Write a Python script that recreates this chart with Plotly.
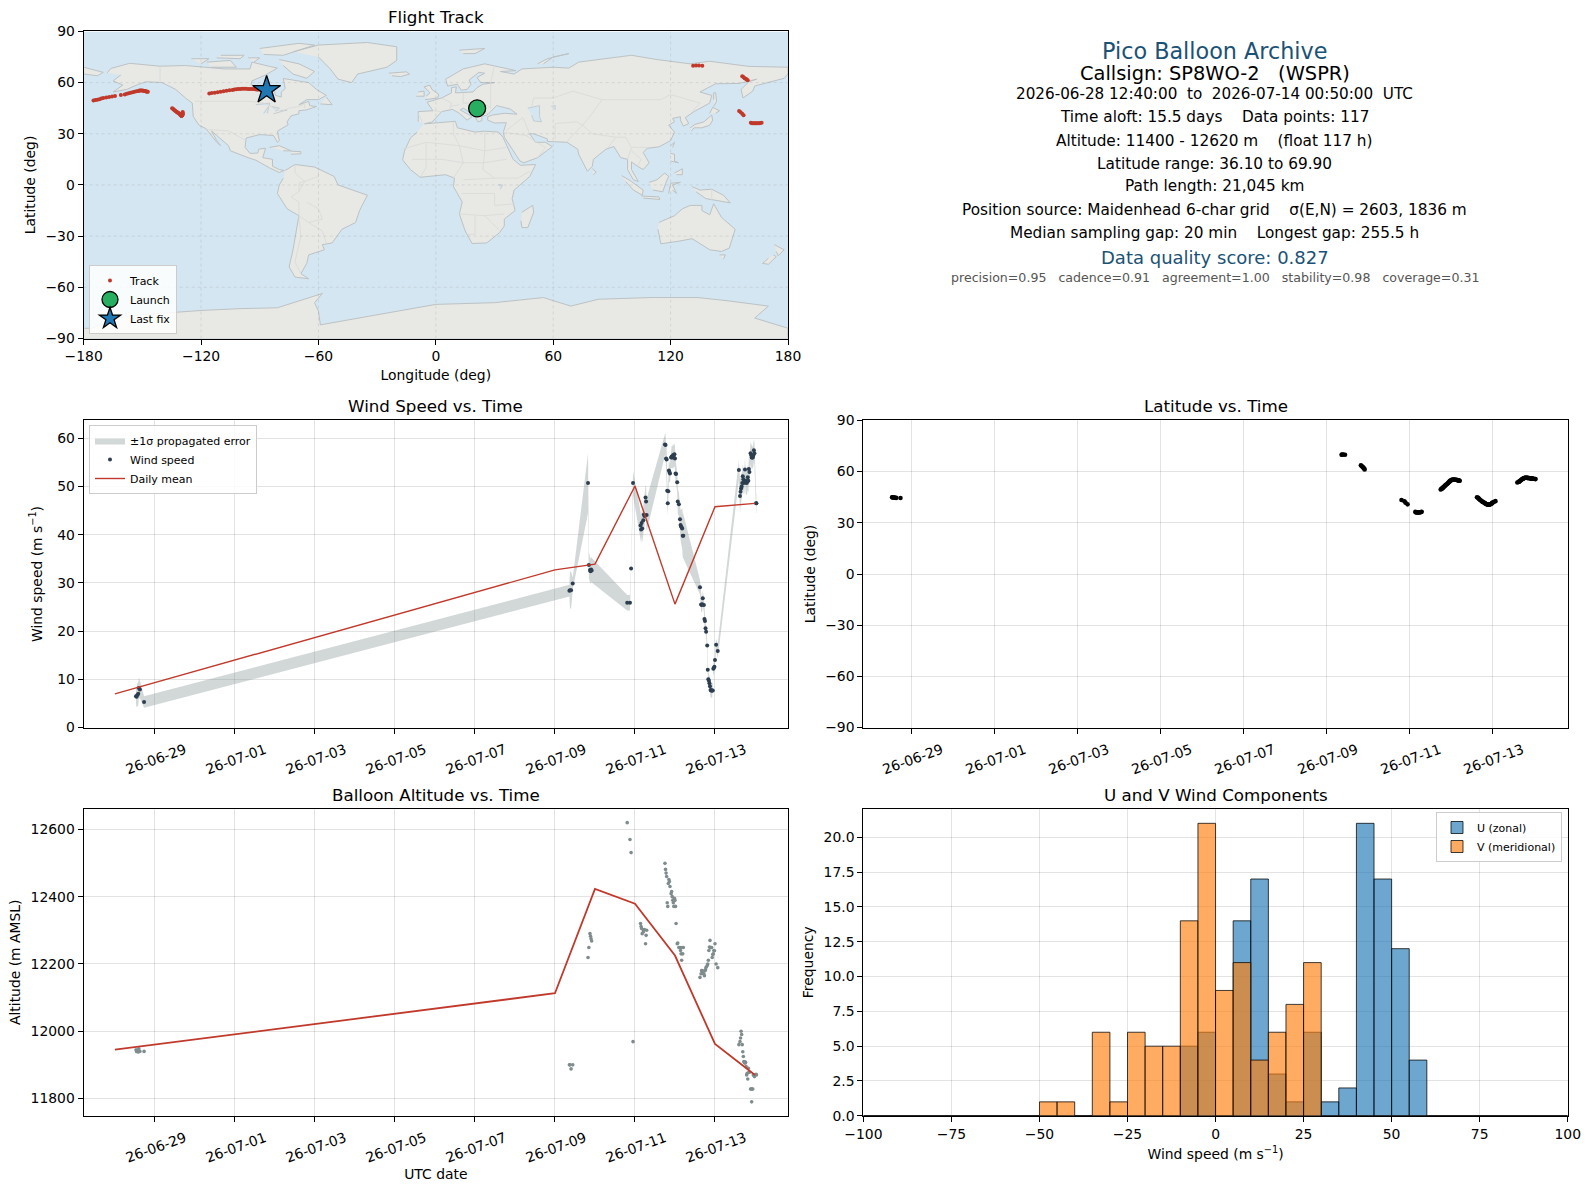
#!/usr/bin/env python3
# Pico balloon flight summary, 5 panels + text block
import plotly.graph_objects as go

W, H = 1589, 1189

# flight samples (one block per contact window)
time_utc = [
    "06-28 12:40", "06-28 13:00", "06-28 13:20", "06-28 14:00", "06-28 14:20", "06-28 15:00", "06-28 17:30",
    "07-09 08:40", "07-09 09:00", "07-09 09:40", "07-09 10:40",
    "07-09 19:50", "07-09 20:20", "07-09 21:00", "07-09 21:20", "07-09 21:40", "07-09 22:00",
    "07-10 19:20", "07-10 21:00", "07-10 21:40", "07-10 22:50",
    "07-11 03:20", "07-11 03:40", "07-11 04:00", "07-11 04:20", "07-11 05:00", "07-11 05:20", "07-11 05:40",
    "07-11 06:20", "07-11 06:40", "07-11 07:00",
    "07-11 18:00", "07-11 18:20", "07-11 18:40", "07-11 19:00", "07-11 19:20", "07-11 19:40", "07-11 20:00",
    "07-11 20:20", "07-11 20:40", "07-11 21:00", "07-11 21:40", "07-11 22:00", "07-11 22:20", "07-11 22:40",
    "07-11 23:00", "07-11 23:20", "07-11 23:40", "07-12 00:00", "07-12 00:20", "07-12 00:40", "07-12 01:20",
    "07-12 01:40", "07-12 02:20", "07-12 03:00", "07-12 03:20", "07-12 03:40", "07-12 04:00", "07-12 04:20",
    "07-12 04:40", "07-12 05:00",
    "07-12 15:00", "07-12 15:40", "07-12 16:00", "07-12 16:20", "07-12 16:40", "07-12 17:20", "07-12 17:40",
    "07-12 18:00", "07-12 18:20", "07-12 18:40", "07-12 19:20", "07-12 19:40", "07-12 20:00", "07-12 20:20",
    "07-12 20:40", "07-12 21:00", "07-12 21:20", "07-12 21:40", "07-12 22:00", "07-12 22:20", "07-12 22:40",
    "07-12 23:00", "07-12 23:20", "07-12 23:40", "07-13 00:00", "07-13 00:40", "07-13 01:40",
    "07-13 14:20", "07-13 15:00", "07-13 15:20", "07-13 15:40", "07-13 16:00", "07-13 16:20", "07-13 16:40",
    "07-13 17:00", "07-13 17:20", "07-13 17:40", "07-13 18:00", "07-13 18:20", "07-13 18:40", "07-13 19:00",
    "07-13 19:20", "07-13 19:40", "07-13 20:00", "07-13 20:20", "07-13 20:40", "07-13 21:20", "07-13 21:40",
    "07-13 22:00", "07-13 22:20", "07-13 22:40", "07-13 23:00", "07-13 23:20", "07-13 23:40", "07-14 00:40",
    "07-14 00:50",
]
wind_speed = [
    6.5, 6.4, 6.7, 7.0, 8.2, 7.9, 5.3,
    28.4, 28.5, 28.5, 29.9,
    50.7, 33.7, 32.7, 32.4, 32.8, 32.6,
    25.9, 25.9, 33.0, 50.7,
    41.9, 41.1, 42.4, 41.3, 43.0, 44.2, 43.9, 47.7, 46.9, 44.1,
    58.7, 58.6, 55.8, 55.6, 49.1, 46.5, 49.0, 53.3, 53.0, 52.7, 56.0, 56.2, 56.0, 56.3, 56.5, 56.0, 56.7, 55.8,
    52.7, 52.6, 50.9, 46.9, 46.3, 43.2, 42.0, 41.7, 41.5, 41.3, 39.8, 39.8,
    29.1, 25.5, 25.4, 25.6, 26.8, 25.4, 22.5, 22.1, 20.6, 19.9, 17.0, 12.0, 10.0, 9.7, 9.2, 8.6, 7.8, 7.7, 7.7,
    7.7, 7.7, 12.2, 12.4, 12.6, 14.0, 17.2, 15.9,
    53.4, 48.0, 48.9, 49.6, 50.0, 50.7, 52.1, 51.5, 50.7, 51.2, 53.5, 51.2, 50.8, 50.7, 51.0, 51.9, 51.2, 53.6,
    53.0, 56.9, 56.5, 56.0, 56.0, 56.0, 56.4, 57.5, 56.9, 46.5, 46.5,
]
wind_sigma = [
    1.5, 2.2, 2.4, 2.4, 2.2, 1.8, 1.2,
    1.2, 3.8, 3.8, 1.2,
    6.2, 2.8, 2.6, 2.6, 2.6, 2.6,
    1.6, 1.6, 1.0, 2.5,
    2.9, 2.9, 2.9, 2.9, 2.9, 2.9, 2.9, 2.6, 3.0, 3.4,
    2.2, 2.3, 2.5, 2.5, 2.4, 2.4, 2.4, 2.4, 2.0, 2.0, 2.2, 2.3, 2.3, 2.4, 2.4, 2.4, 2.4, 2.3,
    2.0, 2.0, 2.2, 2.5, 2.5, 2.5, 3.0, 3.5, 4.0, 4.2, 4.5, 4.5,
    1.5, 1.5, 1.5, 1.5, 1.5, 1.5, 1.3, 1.3, 1.2, 1.2, 1.2, 1.2, 1.5, 1.5, 1.5, 1.5, 1.5, 1.5, 1.5,
    1.5, 1.5, 1.2, 1.2, 1.2, 1.2, 1.2, 1.5,
    2.0, 3.5, 3.0, 2.5, 2.5, 2.5, 2.5, 2.5, 2.5, 2.5, 2.5, 2.5, 2.5, 2.5, 2.5, 2.5, 2.5, 2.5,
    2.5, 2.3, 2.3, 2.3, 2.3, 2.3, 2.3, 2.3, 2.3, 2.0, 2.0,
]
altitude_m = [
    11945, 11940, 11940, 11938, 11948, 11940, 11940,
    11900, 11900, 11888, 11900,
    12219, 12249, 12290, 12282, 12275, 12268,
    12620, 12570, 12531, 11969,
    12320, 12311, 12305, 12290, 12295, 12300, 12302, 12260, 12285, 12300,
    12499, 12481, 12470, 12460, 12382, 12371, 12439, 12451, 12445, 12430, 12409, 12415, 12400, 12389, 12382,
    12371, 12395, 12389, 12371, 12320, 12260, 12262, 12249, 12249, 12240, 12230, 12211, 12249, 12230, 12249,
    12160, 12171, 12180, 12180, 12172, 12171, 12165, 12180, 12183, 12190, 12195, 12200, 12211, 12240, 12250,
    12270, 12249, 12249, 12249, 12219, 12228, 12230, 12240, 12239, 12260, 12200, 12189,
    11960, 11969, 11980, 12000, 11990, 11960, 11939, 11925, 11910, 11908, 11905, 11908, 11895, 11870, 11875,
    11858, 11890, 11878, 11878, 11828, 11828, 11790, 11828, 11828, 11870, 11870, 11865, 11872, 11870,
]
latitude = [
    44.9, 44.9, 44.8, 44.8, 44.7, 44.6, 44.5,
    69.9, 70.0, 70.0, 69.9,
    63.7, 63.2, 62.6, 62.2, 61.8, 61.3,
    43.4, 42.6, 41.8, 40.8,
    36.4, 36.2, 36.1, 36.1, 36.1, 36.1, 36.1, 36.2, 36.3, 36.5,
    49.5, 49.8, 50.0, 50.3, 50.6, 50.9, 51.3, 51.6, 51.9, 52.2, 52.7, 53.0, 53.4, 53.7, 54.1, 54.4, 54.7, 54.9,
    55.1, 55.3, 55.4, 55.4, 55.3, 55.2, 55.1, 55.0, 54.9, 54.8, 54.7, 54.6,
    45.0, 44.6, 44.2, 43.8, 43.5, 43.1, 42.8, 42.5, 42.2, 42.0, 41.7, 41.4, 41.2, 41.0, 40.8, 40.7, 40.6, 40.6,
    40.6, 40.7, 40.8, 41.0, 41.2, 41.5, 41.8, 42.2, 42.7,
    53.6, 53.9, 54.1, 54.3, 54.6, 54.9, 55.2, 55.5, 55.7, 55.9, 56.1, 56.2, 56.3, 56.4, 56.4, 56.4, 56.3, 56.3,
    56.2, 56.2, 56.1, 56.0, 56.0, 55.9, 55.9, 55.9, 55.8, 55.7, 55.6,
]
longitude = [
    21.1, 21.4, 21.7, 22.0, 22.3, 22.6, 23.2,
    131.5, 133.0, 134.5, 136.2,
    156.6, 157.2, 157.8, 158.4, 158.9, 159.4,
    155.0, 155.8, 156.6, 157.3,
    161.0, 161.6, 162.2, 162.8, 163.4, 164.0, 164.6, 165.2, 165.8, 166.5,
    -175, -174, -173, -172, -171, -170, -168.5, -167, -165.5, -164, -161, -159, -158, -157, -156, -155, -154, -153,
    -152, -151.5, -151, -150.5, -150, -149.5, -149, -148.7, -148.3, -148, -147.6, -147.2,
    -134.8, -134.4, -134, -133.6, -133.2, -132.8, -132.4, -132, -131.7, -131.4, -131, -130.8, -130.6, -130.4,
    -130.3, -130.2, -130.1, -130, -129.9, -129.8, -129.7, -129.6, -129.5, -129.5, -129.4, -129.4, -129.4,
    -115.8, -114.5, -113, -111.5, -110, -108.5, -107, -105.5, -104, -103, -102, -101, -100, -99, -98, -97, -96, -95,
    -94, -93, -92.3, -91.6, -91, -90.3, -89.6, -89, -88.4, -87.2, -86.5,
]

# daily means
mean_days = ["2026-06-28", "2026-07-09", "2026-07-10", "2026-07-11", "2026-07-12", "2026-07-13", "2026-07-14"]
mean_wind = [7.0, 32.7, 33.9, 50.1, 25.6, 45.8, 46.5]
mean_alt = [11945, 12113, 12423, 12379, 12225, 11962, 11870]

date_ticks = ["2026-06-29", "2026-07-01", "2026-07-03", "2026-07-05", "2026-07-07", "2026-07-09",
              "2026-07-11", "2026-07-13"]

# histogram counts, 5 m/s bins from -100 to 100
bin_edges = list(range(-100, 105, 5))
u_counts = [0] * 18 + [5, 6, 0, 14, 17, 3, 1, 6, 1, 2, 21, 17, 12, 4] + [0] * 8
v_counts = [0] * 10 + [1, 1, 0, 6, 1, 6, 5, 5, 14, 21, 9, 11, 4, 6, 8, 11] + [0] * 14

# coarse coastlines (lon, lat)
land_polys = [
    # north america
    [(-168, 65.7), (-166, 68.3), (-156.5, 71.3), (-141, 69.6), (-128, 70), (-115, 68.5), (-108, 68), (-95, 68),
     (-94, 72), (-85, 69.5), (-81, 68.5), (-87, 64.5), (-94, 61), (-94.5, 58.7), (-88, 56.5), (-82.5, 55), (-82, 52.5),
     (-79, 51.5), (-79, 54.5), (-77, 56.5), (-78, 62.4), (-70, 61), (-65, 60), (-61, 56), (-56, 52.5), (-60, 50),
     (-66, 50), (-70, 47), (-65, 49), (-64.5, 46.5), (-61, 46), (-66, 44), (-70, 43.5), (-70, 41.7), (-74, 40.5),
     (-76, 37), (-75.5, 35.3), (-81, 31.5), (-80, 26), (-81, 25), (-83, 29), (-90, 29.5), (-97, 27.5), (-97.5, 22),
     (-95, 18.5), (-91, 18.7), (-90.5, 21), (-87, 21.5), (-88.5, 16), (-83.5, 15), (-83.5, 11), (-80, 9), (-77.5, 8.5),
     (-80, 7.3), (-85, 10), (-92, 14.5), (-96, 16), (-105, 20), (-106, 23), (-112, 29), (-114.7, 31.7), (-112, 26),
     (-110, 23), (-112, 25), (-116, 31), (-117.5, 33), (-121, 35), (-124, 40), (-124.5, 48), (-128, 51), (-133, 56),
     (-140, 60), (-148, 60.5), (-152, 59), (-158, 56), (-165, 54.5), (-160, 58.5), (-165, 61), (-161, 64.5)],
    # greenland + arctic islands
    [(-73, 78), (-60, 82), (-35, 83.5), (-20, 81), (-20, 73), (-25, 69), (-40, 65), (-43, 60), (-50, 62), (-54, 68),
     (-60, 75)],
    [(-80, 73.5), (-70, 71), (-62, 66.5), (-66, 62.5), (-73, 65), (-78, 70)],
    [(-117, 72), (-105, 73), (-102, 69), (-115, 69)],
    [(-90, 80), (-70, 83), (-62, 82), (-78, 76), (-88, 76.5)],
    [(-125, 74), (-116, 74), (-120, 71)],
    [(-110, 76), (-98, 76), (-100, 74), (-112, 74.5)],
    [(-96, 74.5), (-90, 74.5), (-93, 72)],
    [(-59, 47.5), (-53, 47), (-56, 51.5)],
    [(-24, 65.5), (-15, 66.3), (-13.5, 65), (-18, 63.5), (-22.5, 64)],
    # caribbean
    [(-85, 22), (-80, 23), (-74, 20), (-78, 20)],
    [(-74, 19.8), (-69, 19.5), (-69, 18.3), (-74, 18)],
    # south america
    [(-77, 8.5), (-72, 12), (-62, 10.5), (-52, 5), (-50, 0), (-44, -2.5), (-35, -6), (-39, -15), (-41, -22), (-48, -26),
     (-53, -34), (-58, -35), (-57, -38), (-65, -41), (-66, -46), (-69, -52), (-65, -55), (-72, -54), (-75, -48),
     (-73, -38), (-70, -18), (-76, -14), (-81, -5), (-80, 0), (-78, 4)],
    # africa
    [(-6, 35.8), (10, 37.3), (11, 33.5), (20, 31), (25, 31.5), (32, 31), (34.3, 28), (37, 21), (39.5, 15), (43.3, 11.5),
     (51, 12), (48, 5), (40, -3), (39, -8), (40.5, -15), (35, -20), (35, -24), (32.5, -28), (26, -34), (18.5, -34.3),
     (15, -27), (12, -17), (13.5, -10), (9, -1), (9.5, 4), (5, 6), (-4, 5), (-8, 4.5), (-13, 9), (-17, 14.7), (-16, 20),
     (-13, 27.5), (-9.5, 31)],
    [(44, -16), (49.5, -12), (50, -16), (47, -25), (44, -25), (43.5, -21)],
    # eurasia
    [(-9, 37), (-9, 43), (-1.5, 43.5), (-4.5, 48.5), (3, 51), (8, 54), (8, 57), (10.5, 57.5), (10, 54), (19, 54.5),
     (21, 57), (24, 59), (30, 60), (23, 60), (21, 63), (25, 65.5), (22, 66), (17, 61.5), (18, 59), (16, 56), (13, 55.5),
     (11, 59), (6, 58), (5, 62), (14, 68), (25, 71), (41, 67), (33, 66.5), (40, 65), (44, 68), (60, 69), (68, 68.5),
     (73, 72), (80, 73), (100, 76), (113, 73.5), (130, 71), (140, 72.5), (160, 69.5), (180, 69), (180, 65), (178, 62.5),
     (170, 60), (163, 58), (162, 55), (157, 51), (156, 56), (160, 60.5), (164, 62), (155, 59.5), (143, 59.3),
     (135, 54.5), (141, 52.5), (140, 48), (132, 43), (129.5, 41), (127.5, 39.5), (129.3, 36), (126.5, 34.5), (125, 38),
     (125, 40), (121, 39), (122, 37), (119, 35), (122, 31), (120, 26), (114, 22.3), (108, 21.5), (106, 19), (109, 13),
     (106, 9), (103, 11), (100, 13.5), (100, 9), (103.5, 2), (101, 3), (98, 9), (98, 15), (94.5, 16), (91, 22.5),
     (87, 21), (80.5, 15), (80, 11), (77.5, 8), (73, 18), (72.5, 21), (67, 25), (57, 25.5), (57, 27), (50, 30), (48, 30),
     (51, 25), (56, 25), (59.5, 22.5), (52, 16), (45, 13), (43, 14), (39, 21), (35, 28), (34.5, 31), (36, 36.5),
     (30, 36.3), (26.5, 38), (26.5, 40), (29, 41), (35, 42), (41.5, 41.5), (38, 44.5), (31, 46.5), (28, 43), (26, 40.8),
     (23.5, 40.3), (23.5, 37.7), (21.5, 37), (19.5, 41), (14, 45), (12.5, 44), (18.5, 40), (16, 38), (12, 42),
     (8.5, 44.3), (3, 43), (0, 39.5), (-2, 36.8), (-5.5, 36)],
    [(-180, 69), (-170, 66), (-173, 64), (-180, 65)],
    # europe / arctic islands
    [(-5.5, 50), (1, 51), (1.5, 53), (-2, 56), (-3, 58.5), (-6, 57.5), (-3, 54), (-5, 52)],
    [(-10, 52), (-6, 52), (-6, 55), (-9, 54.5)],
    [(12, 79), (25, 80), (20, 77), (14, 77)],
    [(52, 71), (57, 74), (68, 77), (60, 75), (55, 71)],
    # east asia and the archipelagos
    [(130.5, 31.5), (132, 33.5), (136, 33.5), (140, 35), (141.5, 38), (141, 41), (140, 40), (137, 37), (132.5, 35.5),
     (130, 33.5)],
    [(140, 42), (141.5, 45.5), (145, 43.5), (143, 42)],
    [(142, 46), (143.5, 49), (143, 54), (142, 54), (142, 50)],
    [(120, 23), (122, 25), (121, 22)],
    [(120, 18.5), (122, 18), (122, 14), (124, 13), (120, 14)],
    [(122, 7), (126, 9.5), (126, 6), (123, 6)],
    [(80, 9.5), (82, 7.5), (80.5, 6)],
    [(95, 5.5), (100, 2), (106, -3), (105.5, -6), (101, -3), (97, 2)],
    [(105, -6.5), (114, -7), (114.5, -8.5), (106, -7.7)],
    [(109, 1.5), (113, 3), (117, 7), (119, 5), (117.5, 1), (116, -4), (111, -3)],
    [(119, -5), (120, 1), (125, 1.5), (121, 0), (123, -5), (121, -3)],
    [(131, -1), (135, -3), (141, -2.5), (147, -6), (150.5, -10.5), (143, -9), (138, -8), (133, -4)],
    # australia, nz
    [(114, -22), (122, -18), (126, -14), (130, -12), (136, -12), (136, -15), (140, -17.5), (142, -11), (146, -19),
     (153, -26), (150, -37), (146, -39), (140, -38), (136, -35), (131, -31.5), (124, -33), (115, -34.5), (113.5, -26)],
    [(145, -41), (148, -41), (147, -43.5)],
    [(173, -35), (178, -38), (175, -41.5), (174, -39)],
    [(172.5, -41), (174, -42), (170, -46.5), (167, -46), (170, -43)],
    # antarctica
    [(-180, -84), (-176, -84), (-163, -78), (-150, -76), (-119, -73.5), (-100, -72.5), (-81, -72), (-70, -68), (-58, -63.6),
     (-62, -69), (-60, -74), (-59, -82), (-34, -77), (0, -70), (30, -69), (55, -66), (69, -71), (83, -67), (110, -66),
     (134, -66), (150, -68), (170, -71), (163, -78), (180, -84), (180, -90), (-180, -90)],
]

# inland water drawn back over the land
water_polys = [
    [(47, 45), (53, 46.5), (53, 40), (54, 37), (50, 37.5), (49, 41)],
    [(-92, 47), (-85, 48), (-85, 46.5)],
    [(-88, 42), (-85.5, 46), (-86, 42)],
    [(-84, 46), (-80, 45), (-82, 43)],
    [(-79.5, 43.5), (-76, 44), (-83, 41.7)],
    [(59, 46), (61, 46.5), (61, 44)],
    [(32, 0), (34, 0), (33, -2.5)],
]

# rough political borders
border_lines = [
    [(-123, 49), (-95, 49), (-88, 48), (-83, 45), (-79, 43), (-75, 45), (-70, 46), (-67, 47.5), (-67, 45)],
    [(-141, 69.6), (-141, 60)],
    [(-117, 32.5), (-106, 31.7), (-97, 26)],
    [(-70, -18), (-65, -22), (-58, -27), (-56, -34)],
    [(-70, -18), (-70, -10), (-74, -7), (-70, -4), (-70, 1), (-60, 5), (-60, 8)],
    [(-72, 12), (-72, 7), (-67, 2), (-70, -4)],
    [(-70, -18), (-69, -30), (-72, -45), (-69, -52)],
    [(-58, -20), (-65, -22)], [(-58, -20), (-60, -14), (-66, -10)],
    [(-17, 21), (-5, 25), (12, 23), (25, 20), (36, 22)],
    [(25, 31.5), (25, 20), (24, 9), (30, 4), (34, 4), (42, 4), (48, 8)],
    [(9, 37), (9, 30), (12, 23), (14, 13), (9, 4)],
    [(-5, 25), (-5, 10), (-8, 4.5)], [(-12, 15), (3, 15), (14, 13), (24, 13), (36, 15)],
    [(14, 3), (30, 4)], [(13, -5), (30, -5), (30, -12), (40.5, -11)],
    [(12, -17), (25, -18), (35, -17)], [(20, -18), (20, -29), (16, -29)], [(25, -18), (32, -26)],
    [(34, 31), (46, 29), (48, 30)], [(36, 32), (42, 37), (44.5, 39.5)], [(46, 29), (56, 22), (52, 16)],
    [(44.5, 39.5), (48, 30)], [(61, 36), (61, 27)], [(61, 36), (72, 37), (75, 35), (69, 28), (67, 25)],
    [(49, 46), (50, 51), (60, 51), (70, 55), (85, 50), (98, 50), (115, 50), (120, 53), (135, 48), (131, 43)],
    [(75, 35), (80, 42), (85, 50)], [(75, 35), (80, 30), (92, 28), (97, 28), (100, 22), (108, 22)],
    [(92, 28), (88, 22)], [(100, 22), (98, 15)], [(100, 20), (105, 15), (103, 11)],
    [(28, 60), (30, 70)], [(28, 60), (28, 45)], [(14, 54), (14, 48), (24, 48), (28, 45)], [(3, 51), (8, 48), (7, 44)],
    [(-1.5, 43.5), (3, 43)], [(-9, 42), (-7, 37)], [(12, 47), (7, 46)], [(20, 42), (28, 42)],
    [(141, -2.5), (141, -9)],
]

legend_box = dict(bgcolor="rgba(255,255,255,0.85)", bordercolor="#cccccc", borderwidth=1,
                  font=dict(size=11), itemsizing="trace", itemwidth=30, tracegroupgap=0)


def px_x(px):
    return px / W


def px_y(px):
    return 1 - px / H


def with_gaps(parts):
    lon, lat = [], []
    for part in parts:
        lon += [p[0] for p in part] + [None]
        lat += [p[1] for p in part] + [None]
    return lon, lat


times = ["2026-" + t for t in time_utc]
upper = [w + s for w, s in zip(wind_speed, wind_sigma)]
lower = [w - s for w, s in zip(wind_speed, wind_sigma)]
bin_centers = [(a + b) / 2 for a, b in zip(bin_edges[:-1], bin_edges[1:])]

fig = go.Figure()

# --- map
land_x, land_y = with_gaps(land_polys)
fig.add_trace(go.Scatter(x=land_x, y=land_y, mode="lines", fill="toself", fillcolor="#e8e8e4",
                         line=dict(color="#bcc2c4", width=1), showlegend=False, hoverinfo="skip",
                         xaxis="x", yaxis="y"))
water_x, water_y = with_gaps(water_polys)
fig.add_trace(go.Scatter(x=water_x, y=water_y, mode="lines", fill="toself", fillcolor="#d4e6f1",
                         line=dict(color="#bcc2c4", width=0.7), showlegend=False, hoverinfo="skip",
                         xaxis="x", yaxis="y"))
border_x, border_y = with_gaps(border_lines)
fig.add_trace(go.Scatter(x=border_x, y=border_y, mode="lines", line=dict(color="#d8dad8", width=0.8),
                         showlegend=False, hoverinfo="skip", xaxis="x", yaxis="y"))
fig.add_trace(go.Scatter(x=longitude, y=latitude, mode="markers", name="Track",
                         marker=dict(color="#c0392b", size=4), xaxis="x", yaxis="y", legend="legend"))
fig.add_trace(go.Scatter(x=longitude[:1], y=latitude[:1], mode="markers", name="Launch",
                         marker=dict(color="#27ae60", size=17, line=dict(color="black", width=1.3)),
                         xaxis="x", yaxis="y", legend="legend"))
fig.add_trace(go.Scatter(x=longitude[-1:], y=latitude[-1:], mode="markers", name="Last fix",
                         marker=dict(color="#1f77b4", size=21, symbol="star", line=dict(color="black", width=1.3)),
                         xaxis="x", yaxis="y", legend="legend"))

# --- wind speed
fig.add_trace(go.Scatter(x=times + times[::-1], y=upper + lower[::-1], mode="lines", fill="toself",
                         fillcolor="rgba(127,140,141,0.35)", line=dict(width=0), name="±1σ propagated error",
                         xaxis="x2", yaxis="y2", legend="legend2"))
fig.add_trace(go.Scatter(x=times, y=wind_speed, mode="markers", name="Wind speed",
                         marker=dict(color="#2c3e50", size=4), xaxis="x2", yaxis="y2", legend="legend2"))
fig.add_trace(go.Scatter(x=mean_days, y=mean_wind, mode="lines", name="Daily mean",
                         line=dict(color="#c0392b", width=1.4), xaxis="x2", yaxis="y2", legend="legend2"))

# --- latitude
fig.add_trace(go.Scatter(x=times, y=latitude, mode="markers", marker=dict(color="black", size=4.6),
                         showlegend=False, xaxis="x3", yaxis="y3"))

# --- altitude
fig.add_trace(go.Scatter(x=times, y=altitude_m, mode="markers", marker=dict(color="#7f8c8d", size=3.6),
                         showlegend=False, xaxis="x4", yaxis="y4"))
fig.add_trace(go.Scatter(x=mean_days, y=mean_alt, mode="lines", line=dict(color="#c0392b", width=1.8),
                         showlegend=False, xaxis="x4", yaxis="y4"))

# --- histogram
fig.add_trace(go.Bar(x=bin_centers, y=u_counts, width=5, name="U (zonal)",
                     marker=dict(color="rgba(31,119,180,0.65)", line=dict(color="rgba(0,0,0,0.75)", width=1)),
                     xaxis="x5", yaxis="y5", legend="legend3"))
fig.add_trace(go.Bar(x=bin_centers, y=v_counts, width=5, name="V (meridional)",
                     marker=dict(color="rgba(255,127,14,0.65)", line=dict(color="rgba(0,0,0,0.75)", width=1)),
                     xaxis="x5", yaxis="y5", legend="legend3"))

# ocean behind everything on the map panel
fig.add_shape(type="rect", x0=-180, x1=180, y0=-90, y1=90, xref="x", yref="y", layer="below",
              fillcolor="#d4e6f1", line=dict(width=0))
# map grid sits on top of the land
for lon_tick in range(-120, 180, 60):
    fig.add_shape(type="line", x0=lon_tick, x1=lon_tick, y0=-90, y1=90, xref="x", yref="y", layer="above",
                  line=dict(color="rgba(120,120,120,0.22)", width=0.8, dash="dot"))
for lat_tick in range(-60, 90, 30):
    fig.add_shape(type="line", x0=-180, x1=180, y0=lat_tick, y1=lat_tick, xref="x", yref="y", layer="above",
                  line=dict(color="rgba(120,120,120,0.22)", width=0.8, dash="dot"))

frame = dict(showline=True, mirror=True, linecolor="black", linewidth=1.2, ticks="outside", ticklen=5,
             tickwidth=1, tickcolor="black", zeroline=False, showgrid=True, automargin=False,
             gridcolor="rgba(0,0,0,0.11)", gridwidth=1)
title_font = dict(size=13.9)

left_dom = [px_x(83.7), px_x(788)]
right_dom = [px_x(863.4), px_x(1567.7)]
row1 = [px_y(338.5), px_y(31.4)]
row2 = [px_y(727.6), px_y(420.4)]
row3 = [px_y(1115.8), px_y(808.7)]

date_axis = dict(frame, type="date", tickvals=date_ticks, tickformat="%y-%m-%d", tickangle=-20, ticklabelshift=30,
                 ticklabelstandoff=3)
wide_range = ["2026-06-27 05:17", "2026-07-14 19:48"]
short_range = ["2026-06-27 20:04", "2026-07-14 19:28"]

fig.update_layout(
    width=W, height=H, autosize=False, margin=dict(l=0, r=0, t=0, b=0),
    paper_bgcolor="white", plot_bgcolor="white", barmode="overlay", hovermode=False,
    font=dict(family="DejaVu Sans", size=13.9, color="black"),
    xaxis=dict(frame, domain=left_dom, anchor="y", range=[-180, 180], tick0=-180, dtick=60, showgrid=False,
               title=dict(text="Longitude (deg)", font=title_font, standoff=6)),
    yaxis=dict(frame, domain=row1, anchor="x", range=[-90, 90], tick0=-90, dtick=30, showgrid=False,
               title=dict(text="Latitude (deg)", font=title_font, standoff=6)),
    xaxis2=dict(date_axis, domain=left_dom, anchor="y2", range=wide_range),
    yaxis2=dict(frame, domain=row2, anchor="x2", range=[0, 63.7], tick0=0, dtick=10,
                title=dict(text="Wind speed (m s<sup>−1</sup>)", font=title_font, standoff=11)),
    xaxis3=dict(date_axis, domain=right_dom, anchor="y3", range=short_range),
    yaxis3=dict(frame, domain=row2, anchor="x3", range=[-90, 90], tick0=-90, dtick=30,
                title=dict(text="Latitude (deg)", font=title_font, standoff=6)),
    xaxis4=dict(date_axis, domain=left_dom, anchor="y4", range=wide_range,
                title=dict(text="UTC date", font=title_font, standoff=0)),
    yaxis4=dict(frame, domain=row3, anchor="x4", range=[11748.5, 12661.5], tick0=11800, dtick=200, tickformat="d",
                title=dict(text="Altitude (m AMSL)", font=title_font, standoff=6)),
    xaxis5=dict(frame, domain=right_dom, anchor="y5", range=[-100, 100], tick0=-100, dtick=25,
                title=dict(text="Wind speed (m s<sup>−1</sup>)", font=title_font, standoff=8)),
    yaxis5=dict(frame, domain=row3, anchor="x5", range=[0, 22.05], tick0=0, dtick=2.5, tickformat=".1f",
                title=dict(text="Frequency", font=title_font, standoff=6)),
    legend=dict(legend_box, x=px_x(89), y=px_y(334), xanchor="left", yanchor="bottom"),
    legend2=dict(legend_box, x=px_x(89), y=px_y(425), xanchor="left", yanchor="top"),
    legend3=dict(legend_box, x=px_x(1562), y=px_y(812), xanchor="right", yanchor="top"),
)

# panel titles
panel_titles = [("Flight Track", left_dom, row1), ("Wind Speed vs. Time", left_dom, row2),
                ("Latitude vs. Time", right_dom, row2), ("Balloon Altitude vs. Time", left_dom, row3),
                ("U and V Wind Components", right_dom, row3)]
for text, dom_x, dom_y in panel_titles:
    fig.add_annotation(text=text, x=sum(dom_x) / 2, y=dom_y[1], xref="paper", yref="paper", xanchor="center",
                       yanchor="bottom", yshift=2, showarrow=False, font=dict(size=16.7))

# summary block, top right
NB = "\u00a0"
summary_lines = [
    ("Pico Balloon Archive", 51, 22.3, "#1a5276"),
    (f"Callsign: SP8WO-2{NB*3}(WSPR)", 73, 19.4, "black"),
    (f"2026-06-28 12:40:00{NB*2}to{NB*2}2026-07-14 00:50:00{NB*2}UTC", 94, 15.2, "black"),
    (f"Time aloft: 15.5 days{NB*4}Data points: 117", 117.5, 15.3, "black"),
    (f"Altitude: 11400 - 12620 m{NB*4}(float 117 h)", 141, 15.3, "black"),
    ("Latitude range: 36.10 to 69.90", 163.5, 15.3, "black"),
    ("Path length: 21,045 km", 186.5, 15.3, "black"),
    (f"Position source: Maidenhead 6-char grid{NB*4}σ(E,N) = 2603, 1836 m", 210, 15.3, "black"),
    (f"Median sampling gap: 20 min{NB*4}Longest gap: 255.5 h", 233, 15.3, "black"),
    ("Data quality score: 0.827", 257, 18, "#1a5276"),
    (f"precision=0.95{NB*3}cadence=0.91{NB*3}agreement=1.00{NB*3}stability=0.98{NB*3}coverage=0.31", 277.5, 12.6,
     "#555555"),
]
for text, y_px, size, color in summary_lines:
    fig.add_annotation(text=text, x=px_x(1214.5), y=px_y(y_px), xref="paper", yref="paper", xanchor="center",
                       yanchor="middle", showarrow=False, font=dict(size=size, color=color))

fig.write_html("out.html", config={"displayModeBar": False}, post_script="document.body.style.margin='0';")
